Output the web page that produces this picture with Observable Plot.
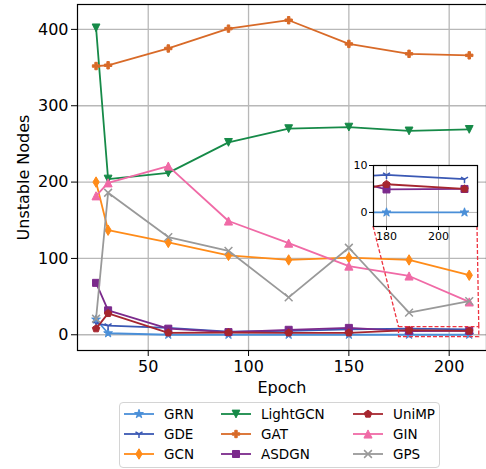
<!DOCTYPE html>
<html>
<head>
<meta charset="utf-8">
<script src="https://cdn.jsdelivr.net/npm/d3@7"></script>
<script src="https://cdn.jsdelivr.net/npm/@observablehq/plot@0.6"></script>
<style>
  body { margin: 0; background: #fff; font-family: "DejaVu Sans", sans-serif; }
  #wrap { position: relative; width: 486px; height: 469px; overflow: hidden; }
  #wrap > svg { position: absolute; left: 0; top: 0; }
  #inset { position: absolute; }
  #legend { position: absolute; box-sizing: border-box; border: 1px solid #d4d4d4; border-radius: 4px; background: rgba(255,255,255,0.85); }
  .entry { position: absolute; height: 16px; display: flex; align-items: center; font-size: 13.5px; color: #000; white-space: nowrap; }
  .entry svg { display: block; margin-right: 10px; overflow: visible; }
</style>
</head>
<body>
<div id="wrap"></div>
<script>
// ---------- data ----------
const epochs   = [24, 30, 60, 90, 120, 150, 180, 210];
const GRN      = [20, 2, 0, 0, 0, 0, 0, 0];
const GDE      = [15, 12, 9, 4, 5, 7, 8, 7.1];
const GCN      = [200, 137, 121, 104, 98, 101, 98, 78];
const LightGCN = [402, 204, 212, 252, 270, 272, 267, 269];
const GAT      = [352, 353, 375, 401, 412, 381, 368, 366];
const ASDGN    = [68, 32, 8, 3.5, 6.5, 9, 4.9, 5];
const UniMP    = [8, 28, 2.6, 3, 2.6, 2.6, 6, 5];
const GIN      = [182, 199, 221, 149, 120, 90, 77, 43];
const GPS      = [21, 186, 128, 110, 49, 114, 29, 44];
const seriesNames = ["GRN", "GDE", "GCN", "LightGCN", "GAT", "ASDGN", "UniMP", "GIN", "GPS"];
const seriesValues = {GRN, GDE, GCN, LightGCN, GAT, ASDGN, UniMP, GIN, GPS};
const xTicks = [50, 100, 150, 200];
const yTicks = [0, 100, 200, 300, 400];
const insetX = [175, 215];
const insetY = [-3, 10];
const insetXTicks = [180, 200];
const insetYTicks = [0, 10];

// ---------- symbols (matplotlib-like) ----------
const H = s => Math.sqrt(s / Math.PI);
const poly = (c, pts) => { pts.forEach(([x, y], i) => i ? c.lineTo(x, y) : c.moveTo(x, y)); c.closePath(); };
const symbols = {
  star: {draw(c, s) { const R = H(s) * 1.25, r = R * 0.382; const p = [];
    for (let i = 0; i < 10; i++) { const a = -Math.PI / 2 + i * Math.PI / 5, rr = i % 2 ? r : R; p.push([rr * Math.cos(a), rr * Math.sin(a)]); }
    poly(c, p); }},
  tri1: {draw(c, s) { const h = H(s) * 1.1;
    c.moveTo(0, 0); c.lineTo(0, h); c.moveTo(0, 0); c.lineTo(-0.866 * h, -0.5 * h); c.moveTo(0, 0); c.lineTo(0.866 * h, -0.5 * h); }},
  thinDiamond: {draw(c, s) { const h = H(s) * 1.414; poly(c, [[0, -h], [0.6 * h, 0], [0, h], [-0.6 * h, 0]]); }},
  triDown: {draw(c, s) { const h = H(s) * 1.05; poly(c, [[0, h], [-h, -h], [h, -h]]); }},
  triUp: {draw(c, s) { const h = H(s) * 1.1; poly(c, [[0, -h], [-h, h], [h, h]]); }},
  plusFilled: {draw(c, s) { const h = H(s), w = h / 3;
    poly(c, [[-w, -h], [w, -h], [w, -w], [h, -w], [h, w], [w, w], [w, h], [-w, h], [-w, w], [-h, w], [-h, -w], [-w, -w]]); }},
  square: {draw(c, s) { const h = H(s) * 0.95; poly(c, [[-h, -h], [h, -h], [h, h], [-h, h]]); }},
  pentagon: {draw(c, s) { const h = H(s) * 1.05; const p = [];
    for (let i = 0; i < 5; i++) { const a = -Math.PI / 2 + i * 2 * Math.PI / 5; p.push([h * Math.cos(a), h * Math.sin(a)]); }
    poly(c, p); }},
  times: {draw(c, s) { const h = H(s) * 1.05; c.moveTo(-h, -h); c.lineTo(h, h); c.moveTo(-h, h); c.lineTo(h, -h); }}
};

// ---------- styles ----------
const styles = {
  GRN:      {color: "#4a8fd8", symbol: symbols.star,        filled: true},
  GDE:      {color: "#3a58b4", symbol: symbols.tri1,        filled: false},
  GCN:      {color: "#ff8b18", symbol: symbols.thinDiamond, filled: true},
  LightGCN: {color: "#168a48", symbol: symbols.triDown,     filled: true},
  GAT:      {color: "#d86a28", symbol: symbols.plusFilled,  filled: true},
  ASDGN:    {color: "#7b2a8c", symbol: symbols.square,      filled: true},
  UniMP:    {color: "#a6262f", symbol: symbols.pentagon,    filled: true},
  GIN:      {color: "#f06aa6", symbol: symbols.triUp,       filled: true},
  GPS:      {color: "#999999", symbol: symbols.times,       filled: false}
};
const RED = "#ee3340";
const R = 3.7;

const rowsOf = name => epochs.map((e, i) => ({epoch: e, value: seriesValues[name][i], name}));

function seriesMarks(clip) {
  return seriesNames.flatMap(name => {
    const st = styles[name], rows = rowsOf(name);
    return [
      Plot.line(rows, {x: "epoch", y: "value", stroke: st.color, strokeWidth: 1.8, clip}),
      Plot.dot(rows, {x: "epoch", y: "value", symbol: () => st.symbol, r: R,
        fill: st.filled ? st.color : "none", stroke: st.color,
        strokeWidth: st.filled ? 1 : 1.5, clip})
    ];
  });
}

// ---------- main plot ----------
const main = Plot.plot({
  width: 486, height: 400,
  marginLeft: 77, marginRight: 0, marginTop: 4, marginBottom: 50,
  style: {fontFamily: "DejaVu Sans", fontSize: "16px", color: "#000", background: "transparent", overflow: "visible"},
  x: {domain: [14.75, 218.6]},
  y: {domain: [-20.6, 432.6]},
  symbol: {type: "identity"},
  marks: [
    Plot.gridX(xTicks, {stroke: "#b8b8b8", strokeOpacity: 1, strokeWidth: 1.3}),
    Plot.gridY(yTicks, {stroke: "#b8b8b8", strokeOpacity: 1, strokeWidth: 1.3}),
    ...seriesMarks(false),
    Plot.rect([{x1: insetX[0], x2: insetX[1], y1: insetY[0], y2: insetY[1]}],
      {x1: "x1", x2: "x2", y1: "y1", y2: "y2", fill: "none", stroke: RED, strokeWidth: 1.3, strokeDasharray: "4,2"}),
    Plot.frame({stroke: "#000", strokeWidth: 1.2}),
    Plot.axisX(xTicks, {tickSize: 6, tickPadding: 4, fontSize: 16, label: null}),
    Plot.axisY(yTicks, {tickSize: 6, tickPadding: 3, fontSize: 16, label: null}),
    Plot.text(["Epoch"], {frameAnchor: "bottom", lineAnchor: "middle", textAnchor: "middle", dy: 37, fontSize: 16}),
    Plot.text(["Unstable Nodes"], {frameAnchor: "left", lineAnchor: "middle", textAnchor: "middle", rotate: -90, dx: -54, fontSize: 16})
  ]
});
const wrap = document.getElementById("wrap");
wrap.appendChild(main);

// ---------- inset ----------
const insetPos = {left: 345, top: 157};
const insetM = {left: 28, top: 8, right: 4, bottom: 22};
const insetBox = {w: 104, h: 61};
const inset = Plot.plot({
  width: insetM.left + insetBox.w + insetM.right,
  height: insetM.top + insetBox.h + insetM.bottom,
  marginLeft: insetM.left, marginRight: insetM.right, marginTop: insetM.top, marginBottom: insetM.bottom,
  style: {fontFamily: "DejaVu Sans", fontSize: "11px", color: "#000", background: "transparent", overflow: "visible"},
  x: {domain: insetX},
  y: {domain: insetY},
  symbol: {type: "identity"},
  marks: [
    Plot.frame({fill: "white"}),
    Plot.gridX(insetXTicks, {stroke: "#b8b8b8", strokeOpacity: 1, strokeWidth: 1}),
    Plot.gridY(insetYTicks, {stroke: "#b8b8b8", strokeOpacity: 1, strokeWidth: 1}),
    ...seriesMarks(true),
    Plot.frame({stroke: "#000", strokeWidth: 1.2}),
    Plot.axisX(insetXTicks, {tickSize: 4, tickPadding: 2, fontSize: 11, label: null}),
    Plot.axisY(insetYTicks, {tickSize: 4, tickPadding: 2, fontSize: 11, label: null})
  ]
});
const insetDiv = document.createElement("div");
insetDiv.id = "inset";
insetDiv.style.left = insetPos.left + "px";
insetDiv.style.top = insetPos.top + "px";
insetDiv.appendChild(inset);

// connectors (drawn in main svg, below the inset)
const sx = main.scale("x"), sy = main.scale("y");
const bl = [insetPos.left + insetM.left, insetPos.top + insetM.top + insetBox.h];
const br = [insetPos.left + insetM.left + insetBox.w, insetPos.top + insetM.top + insetBox.h];
const g = d3.select(main).append("g").attr("stroke", RED).attr("stroke-width", 1.3).attr("stroke-dasharray", "4,2").attr("fill", "none");
g.append("line").attr("x1", bl[0]).attr("y1", bl[1]).attr("x2", sx.apply(insetX[0])).attr("y2", sy.apply(insetY[1]));
g.append("line").attr("x1", br[0]).attr("y1", br[1]).attr("x2", sx.apply(insetX[1])).attr("y2", sy.apply(insetY[1]));
wrap.appendChild(insetDiv);

// ---------- legend ----------
const legend = document.createElement("div");
legend.id = "legend";
Object.assign(legend.style, {left: "119px", top: "402px", width: "321px", height: "66px"});
const colX = [4, 101, 233];
const rowY = [3, 23, 43];
seriesNames.forEach((name, i) => {
  const st = styles[name];
  const col = Math.floor(i / 3), row = i % 3;
  const e = document.createElement("div");
  e.className = "entry";
  e.style.left = colX[col] + "px";
  e.style.top = rowY[row] + "px";
  const s = d3.create("svg").attr("width", 30).attr("height", 14);
  s.append("line").attr("x1", 0).attr("x2", 30).attr("y1", 7).attr("y2", 7).attr("stroke", st.color).attr("stroke-width", 1.8);
  s.append("path").attr("transform", "translate(15,7)")
    .attr("d", d3.symbol(st.symbol, Math.PI * R * R)())
    .attr("fill", st.filled ? st.color : "none").attr("stroke", st.color).attr("stroke-width", st.filled ? 1 : 1.5);
  e.appendChild(s.node());
  const t = document.createElement("span");
  t.textContent = name;
  e.appendChild(t);
  legend.appendChild(e);
});
wrap.appendChild(legend);
</script>
</body>
</html>
